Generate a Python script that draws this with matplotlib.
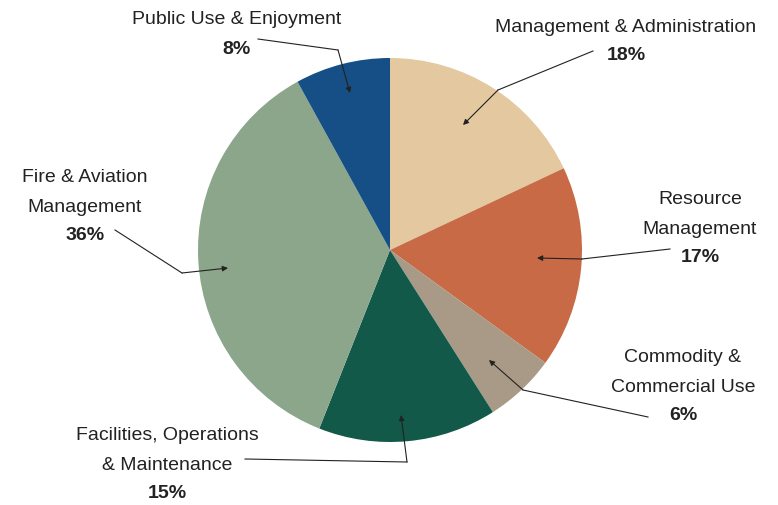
import matplotlib.pyplot as plt

# budget shares by program area
names = ["Management & Administration", "Resource\nManagement",
         "Commodity &\nCommercial Use", "Facilities, Operations\n& Maintenance",
         "Fire & Aviation\nManagement", "Public Use & Enjoyment"]
shares = [18, 17, 6, 15, 36, 8]
colors = ["#E4C89F", "#C96A47", "#A89A86", "#12594A", "#8BA68B", "#154F85"]

W, H = 778, 505
fig = plt.figure(figsize=(W / 100, H / 100), dpi=100)
ax = fig.add_axes([0, 0, 1, 1])
ax.set_xlim(0, W)
ax.set_ylim(0, H)
ax.set_aspect("equal")
ax.axis("off")

def Y(y):
    # work in top-down pixel rows
    return H - y

ax.pie(shares, colors=colors, startangle=90, counterclock=False,
       center=(390, Y(250)), radius=192, frame=True,
       wedgeprops=dict(linewidth=0))
ax.set_xlim(0, W)
ax.set_ylim(0, H)
ax.axis("off")

font = ["Liberation Sans Narrow", "Liberation Sans", "DejaVu Sans"]
# label block centre x, first line y, then leader: start, elbow, tip
layout = [
    (626, 27, (593, 51), (498, 90), (463, 125)),
    (700, 200, (670, 249), (582, 259), (537, 258)),
    (683, 358, (648, 417), (523, 390), (489, 360)),
    (167, 436, (245, 459), (407, 462), (401, 415)),
    (85, 178, (115, 230), (182, 273), (228, 268)),
    (237, 20, (258, 39), (338, 50), (350, 93)),
]
step = 29
for name, v, (x, y0, start, elbow, tip) in zip(names, shares, layout):
    lines = name.split("\n")
    for i, line in enumerate(lines):
        ax.text(x, Y(y0 + i * step), line, ha="center", va="center",
                fontsize=14, family=font, color="#222222")
    ax.text(x, Y(y0 + len(lines) * step), f"{v}%", ha="center", va="center",
            fontsize=14, family=font, fontweight="bold", color="#222222")
    ax.plot([start[0], elbow[0]], [Y(start[1]), Y(elbow[1])],
            color="#222222", lw=0.8)
    ax.annotate("", xy=(tip[0], Y(tip[1])), xytext=(elbow[0], Y(elbow[1])),
                arrowprops=dict(arrowstyle="-|>", color="#222222", lw=0.8,
                                mutation_scale=8, shrinkA=0, shrinkB=0))

fig.savefig("out.png", dpi=100)
